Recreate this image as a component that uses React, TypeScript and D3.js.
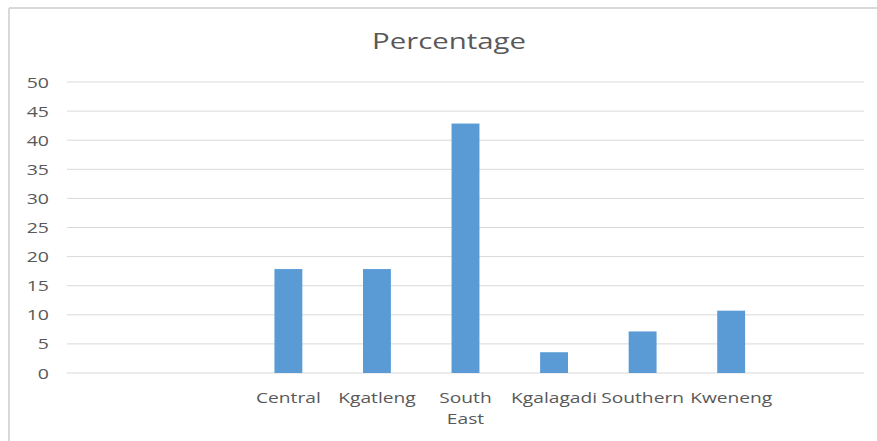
import React from "react";
import * as d3 from "d3";

const categories: string[] = ["", " ", "Central", "Kgatleng", "South East", "Kgalagadi", "Southern", "Kweneng", "  "];
const values: (number | null)[] = [null, null, 17.86, 17.86, 42.86, 3.57, 7.14, 10.71, null];
const yTicks: number[] = [0, 5, 10, 15, 20, 25, 30, 35, 40, 45, 50];
const title = "Percentage";

const W = 877;
const H = 441;
const left = 67;
const right = 864;
const top = 82;
const bottom = 373;
const SX = 1.3;
const textColor = "#595959";
const font = "'Open Sans', sans-serif";

export default function App() {
  const x = d3.scaleBand<string>().domain(categories).range([left, right]).paddingInner(0.685).paddingOuter(0.3425);
  const y = d3.scaleLinear().domain([0, 50]).range([bottom, top]);

  return (
    <svg width={W} height={H} style={{ position: "absolute", left: 0, top: 0 }}>
      <rect x={0} y={0} width={W} height={H} fill="#fff" />
      <line x1={9} y1={8} x2={W} y2={8} stroke="#d9d9d9" strokeWidth={2} />
      <line x1={9} y1={8} x2={9} y2={H} stroke="#d9d9d9" strokeWidth={2} />
      <text
        transform={`translate(449,49) scale(1.4,1)`}
        textAnchor="middle"
        fontFamily={font}
        fontSize={21}
        fill={textColor}
      >
        {title}
      </text>
      {yTicks.map((t) => (
        <g key={t}>
          <line x1={left} x2={right} y1={y(t)} y2={y(t)} stroke="#d9d9d9" strokeWidth={1} />
          <text
            transform={`translate(49,${y(t) + 5.5}) scale(${SX},1)`}
            textAnchor="end"
            fontFamily={font}
            fontSize={15}
            fill={textColor}
          >
            {t}
          </text>
        </g>
      ))}
      {categories.map((c, i) => {
        const v = values[i];
        const bx = x(c)!;
        return v == null ? null : (
          <rect key={c} x={bx} y={y(v)} width={x.bandwidth()} height={y(0) - y(v)} fill="#5b9bd5" />
        );
      })}
      {categories.map((c) => {
        const cx = x(c)! + x.bandwidth() / 2;
        const words = c.trim() === "" ? [] : c === "South East" ? ["South", "East"] : [c];
        return (
          <g key={"l" + c}>
            {words.map((w, j) => (
              <text
                key={w}
                transform={`translate(${cx},${403 + j * 21}) scale(1.37,1)`}
                textAnchor="middle"
                fontFamily={font}
                fontSize={14}
                fill={textColor}
              >
                {w}
              </text>
            ))}
          </g>
        );
      })}
    </svg>
  );
}
